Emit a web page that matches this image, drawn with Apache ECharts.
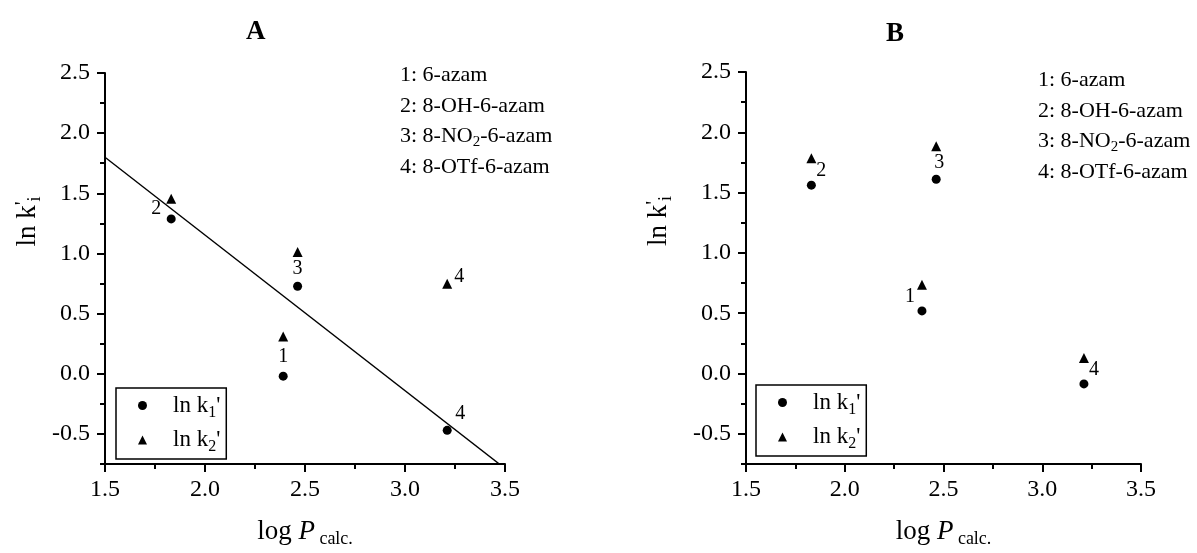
<!DOCTYPE html>
<html>
<head>
<meta charset="utf-8">
<script src="https://cdn.jsdelivr.net/npm/echarts@6/dist/echarts.min.js"></script>
<style>html,body{margin:0;padding:0;background:#fff;}#c{width:1197px;height:553px;}</style>
</head>
<body>
<div id="c"></div>
<script>
// ---- data ----
const compoundIds = ['1', '2', '3', '4'];
const compoundNames = ['6-azam', '8-OH-6-azam', '8-NO2-6-azam', '8-OTf-6-azam'];
const logP = [2.391, 1.831, 2.463, 3.211];
const lnk1A = [-0.02, 1.287, 0.727, -0.47];
const lnk2A = [0.31, 1.455, 1.013, 0.748];
const lnk1B = [0.519, 1.562, 1.611, -0.086];
const lnk2B = [0.737, 1.785, 1.884, 0.129];
const fitX = [1.5, 3.5];
const fitY = [1.80, -0.787];
const xTicks = [1.5, 2.0, 2.5, 3.0, 3.5];
const yTicks = [-0.5, 0.0, 0.5, 1.0, 1.5, 2.0, 2.5];
const yMinorTicks = [-0.75, -0.25, 0.25, 0.75, 1.25, 1.75, 2.25];
const seriesNames = ["ln k1'", "ln k2'"];
const panelTitles = ['A', 'B'];

// ---- styling ----
const FONT = '"Liberation Serif", "DejaVu Serif", serif';
const black = '#000';

function pts(xs, ys) { return xs.map((x, i) => [x, ys[i]]); }

function labelled(xs, ys, offsets) {
  return xs.map((x, i) => {
    const d = { value: [x, ys[i]], name: compoundIds[i] };
    if (offsets[i]) {
      d.label = { show: true, position: 'inside', offset: offsets[i], formatter: compoundIds[i],
        color: black, fontFamily: FONT, fontSize: 20, opacity: 1 };
    }
    return d;
  });
}

const labelOffsets = {
  A1: [null, null, null, [13, -17]],
  A2: [[0, 20], [-15, 10], [0, 17], [12, -7]],
  B1: [null, null, null, null],
  B2: [[-12, 12], [10, 13], [3, 16], [10, 12]]
};

const grids = [
  { left: 105, top: 73, width: 400, height: 397 },
  { left: 746, top: 72, width: 395, height: 398 }
];

function xAxis(gi) {
  return {
    type: 'value', gridIndex: gi, min: 1.5, max: 3.5, interval: 0.5,
    axisLine: { show: true, onZero: false, lineStyle: { color: black, width: 2 } },
    axisTick: { show: true, inside: false, length: 8, lineStyle: { color: black, width: 2 } },
    minorTick: { show: true, splitNumber: 2, length: 5, lineStyle: { color: black, width: 2 } },
    splitLine: { show: false },
    axisLabel: { color: black, fontFamily: FONT, fontSize: 24, margin: 14,
      customValues: xTicks, formatter: v => v.toFixed(1) },
    name: '{a|log }{i|P}{s| calc.}',
    nameLocation: 'middle', nameGap: 52,
    nameTextStyle: { color: black, rich: {
      a: { fontFamily: FONT, fontSize: 27, color: black },
      i: { fontFamily: FONT, fontSize: 27, fontStyle: 'italic', color: black },
      s: { fontFamily: FONT, fontSize: 18, color: black, padding: [14, 0, 0, 0] }
    } }
  };
}

function yAxisMain(gi, gap) {
  return {
    type: 'value', gridIndex: gi, position: 'left', min: -0.75, max: 2.5, interval: 0.25,
    axisLine: { show: true, onZero: false, lineStyle: { color: black, width: 2 } },
    axisTick: { show: true, inside: false, length: 8, customValues: yTicks, lineStyle: { color: black, width: 2 } },
    splitLine: { show: false },
    axisLabel: { color: black, fontFamily: FONT, fontSize: 24, margin: 15,
      customValues: yTicks,
      formatter: v => (Math.abs(v * 2 - Math.round(v * 2)) < 1e-6 ? v.toFixed(1) : '') },
    name: "{a|ln k}{p|'}{s|i}",
    nameLocation: 'middle', nameGap: gap,
    nameTextStyle: { color: black, padding: [0, 0, 0, 94], rich: {
      a: { fontFamily: FONT, fontSize: 27, color: black },
      p: { fontFamily: FONT, fontSize: 22, color: black, padding: [0, 0, 10, 0] },
      s: { fontFamily: FONT, fontSize: 18, color: black, padding: [14, 0, 0, 0] }
    } }
  };
}

function yAxisMinor(gi) {
  return {
    type: 'value', gridIndex: gi, position: 'left', offset: 0, min: -0.75, max: 2.5, interval: 0.25,
    axisLine: { show: false, onZero: false },
    axisTick: { show: true, inside: false, length: 5, customValues: yMinorTicks, lineStyle: { color: black, width: 2 } },
    splitLine: { show: false },
    axisLabel: { show: false }
  };
}

function legend(gi, left, top) {
  return {
    show: true, orient: 'vertical', left: left, top: top,
    data: [{ name: seriesNames[0], icon: 'circle' }, { name: seriesNames[1], icon: 'triangle' }],
    borderColor: black, borderWidth: 1.5, padding: [6, 6, 4, 22],
    itemWidth: 9, itemHeight: 9, itemGap: 8, selectedMode: false,
    itemStyle: { color: black, opacity: 1 },
    formatter: n => n === seriesNames[0] ? "{g|}{a|ln k}{s|1}{a|'}" : "{g|}{a|ln k}{s|2}{a|'}",
    textStyle: { color: black, rich: {
      g: { width: 21 },
      a: { fontFamily: FONT, fontSize: 23, color: black },
      s: { fontFamily: FONT, fontSize: 16, color: black, padding: [14, 0, 0, 0] }
    } }
  };
}

function numberList(left, top) {
  const lines = compoundNames.map((n, i) => {
    if (n.indexOf('NO2') >= 0) {
      const parts = n.split('NO2');
      return '{a|' + compoundIds[i] + ': ' + parts[0] + 'NO}{s|2}{a|' + parts[1] + '}';
    }
    return '{a|' + compoundIds[i] + ': ' + n + '}';
  });
  return {
    text: lines.join('\n'), left: left, top: top, padding: 0,
    textStyle: { fontWeight: 'normal', rich: {
      a: { fontFamily: FONT, fontSize: 22, fontWeight: 'normal', color: black, lineHeight: 30.5 },
      s: { fontFamily: FONT, fontSize: 15, fontWeight: 'normal', color: black, padding: [12, 0, 0, 0], lineHeight: 30.5 }
    } }
  };
}

const scatterBase = (name, xi, yi, data, symbol) => ({
  name: name, type: 'scatter', xAxisIndex: xi, yAxisIndex: yi, data: data,
  symbol: symbol, symbolSize: symbol === 'circle' ? 9 : 10,
  itemStyle: { color: black, opacity: 1 }, label: { show: false }, emphasis: { disabled: true }
});

const option = {
  backgroundColor: '#fff',
  animation: false,
  title: [
    { text: panelTitles[0], left: 241, top: 14, textStyle: { fontFamily: FONT, fontSize: 27, fontWeight: 'bold', color: black } },
    { text: panelTitles[1], left: 881, top: 16, textStyle: { fontFamily: FONT, fontSize: 27, fontWeight: 'bold', color: black } },
    numberList(400, 60),
    numberList(1038, 65)
  ],
  grid: grids,
  xAxis: [xAxis(0), xAxis(1)],
  yAxis: [yAxisMain(0, 61), yAxisMinor(0), yAxisMain(1, 71), yAxisMinor(1)],
  legend: [legend(0, 116, 388), legend(1, 756, 385)],
  series: [
    {
      name: 'fit', type: 'line', xAxisIndex: 0, yAxisIndex: 0, data: pts(fitX, fitY),
      symbol: 'none', clip: true, lineStyle: { color: black, width: 1.4 }, silent: true
    },
    scatterBase(seriesNames[0], 0, 0, labelled(logP, lnk1A, labelOffsets.A1), 'circle'),
    scatterBase(seriesNames[1], 0, 0, labelled(logP, lnk2A, labelOffsets.A2), 'triangle'),
    scatterBase(seriesNames[0], 1, 2, labelled(logP, lnk1B, labelOffsets.B1), 'circle'),
    scatterBase(seriesNames[1], 1, 2, labelled(logP, lnk2B, labelOffsets.B2), 'triangle')
  ]
};

const chart = echarts.init(document.getElementById('c'), null, { renderer: 'canvas' });
chart.setOption(option);
</script>
</body>
</html>
